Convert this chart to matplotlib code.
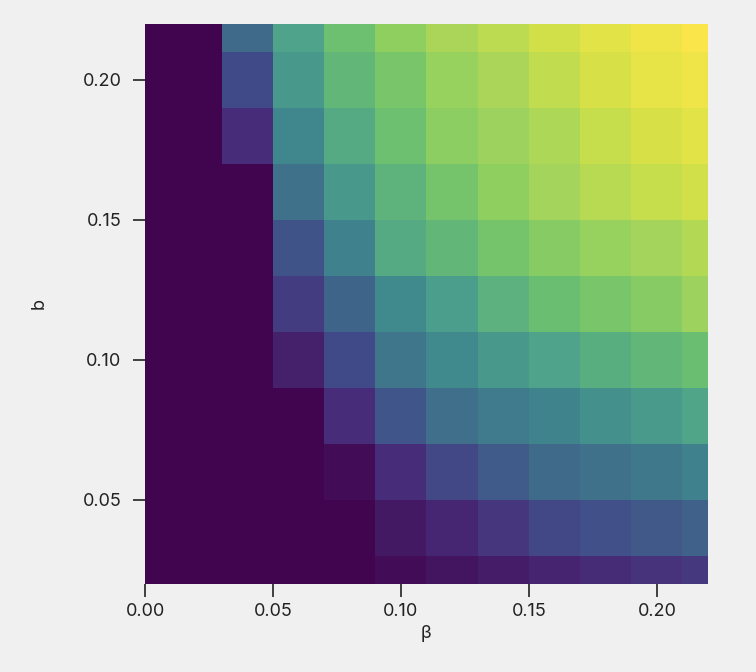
import numpy as np
import matplotlib
matplotlib.use("Agg")
import matplotlib.pyplot as plt
from matplotlib.colors import LinearSegmentedColormap

# grid of parameter values (cell centres)
beta_values = [0.00, 0.02, 0.04, 0.06, 0.08, 0.10, 0.12, 0.14, 0.16, 0.18, 0.20, 0.22]
b_values = [0.02, 0.04, 0.06, 0.08, 0.10, 0.12, 0.14, 0.16, 0.18, 0.20, 0.22]

# outcome per cell, one row per b (bottom to top), one column per beta
row_b002 = [0, 0, 0, 0, 0.00, 0.02, 0.05, 0.07, 0.09, 0.11, 0.14, 0.16]
row_b004 = [0, 0, 0, 0, 0.00, 0.06, 0.10, 0.15, 0.21, 0.24, 0.27, 0.30]
row_b006 = [0, 0, 0, 0, 0.02, 0.12, 0.21, 0.28, 0.33, 0.36, 0.39, 0.43]
row_b008 = [0, 0, 0, 0, 0.12, 0.26, 0.35, 0.40, 0.44, 0.49, 0.53, 0.58]
row_b010 = [0, 0, 0, 0.08, 0.22, 0.38, 0.46, 0.52, 0.57, 0.62, 0.66, 0.69]
row_b012 = [0, 0, 0, 0.17, 0.31, 0.46, 0.55, 0.63, 0.69, 0.73, 0.76, 0.81]
row_b014 = [0, 0, 0, 0.25, 0.43, 0.60, 0.66, 0.72, 0.76, 0.80, 0.83, 0.86]
row_b016 = [0, 0, 0, 0.36, 0.52, 0.64, 0.72, 0.78, 0.83, 0.87, 0.90, 0.92]
row_b018 = [0, 0, 0.12, 0.45, 0.60, 0.70, 0.77, 0.81, 0.85, 0.90, 0.93, 0.95]
row_b020 = [0, 0, 0.22, 0.52, 0.66, 0.73, 0.80, 0.84, 0.89, 0.93, 0.96, 0.98]
row_b022 = [0, 0, 0.33, 0.57, 0.70, 0.78, 0.84, 0.88, 0.92, 0.95, 0.98, 1.00]

values = np.array([row_b002, row_b004, row_b006, row_b008, row_b010, row_b012,
                   row_b014, row_b016, row_b018, row_b020, row_b022])

# muted viridis-like palette as it appears in the picture
cmap_stops = [0.0, 0.12, 0.22, 0.33, 0.45, 0.57, 0.70, 0.78, 0.84, 0.88, 0.92, 0.95, 1.0]
cmap_colors = ['#41054f', '#472e7a', '#414a88', '#3f6a8a', '#3f878d', '#4ea38a', '#6cc070',
               '#8fcf60', '#a8d55a', '#bcdb50', '#d0e048', '#e0e346', '#fae64a']
cmap = LinearSegmentedColormap.from_list('muted_viridis', list(zip(cmap_stops, cmap_colors)))

beta = np.array(beta_values)
b = np.array(b_values)
step = 0.02
x_edges = np.append(beta - step / 2, beta[-1] + step / 2)
y_edges = np.append(b - step / 2, b[-1] + step / 2)

plt.rcParams['font.family'] = ['Inter', 'DejaVu Sans']
bg = '#f0f0f0'
ink = '#222222'

fig = plt.figure(figsize=(7.56, 6.72), dpi=100, facecolor=bg)
ax = fig.add_axes([0.1918, 0.131, 0.7447, 0.8333])
ax.set_facecolor(bg)

ax.pcolormesh(x_edges, y_edges, values, cmap=cmap, vmin=0, vmax=1, shading='flat')

ax.set_xlim(0.0, 0.22)
ax.set_ylim(0.02, 0.22)
ax.set_xticks([0.00, 0.05, 0.10, 0.15, 0.20])
ax.set_yticks([0.05, 0.10, 0.15, 0.20])
ax.xaxis.set_major_formatter(matplotlib.ticker.FormatStrFormatter('%.2f'))
ax.yaxis.set_major_formatter(matplotlib.ticker.FormatStrFormatter('%.2f'))

for s in ax.spines.values():
    s.set_visible(False)
ax.tick_params(axis='both', direction='out', length=9, width=1.2, color=ink,
               labelcolor=ink, labelsize=13, pad=5)
ax.tick_params(axis='y', pad=8)

ax.set_xlabel('β', fontsize=13, color=ink, labelpad=3)
ax.set_ylabel('b', fontsize=13, color=ink, labelpad=25)

fig.savefig('out.png', dpi=100, facecolor=bg)
